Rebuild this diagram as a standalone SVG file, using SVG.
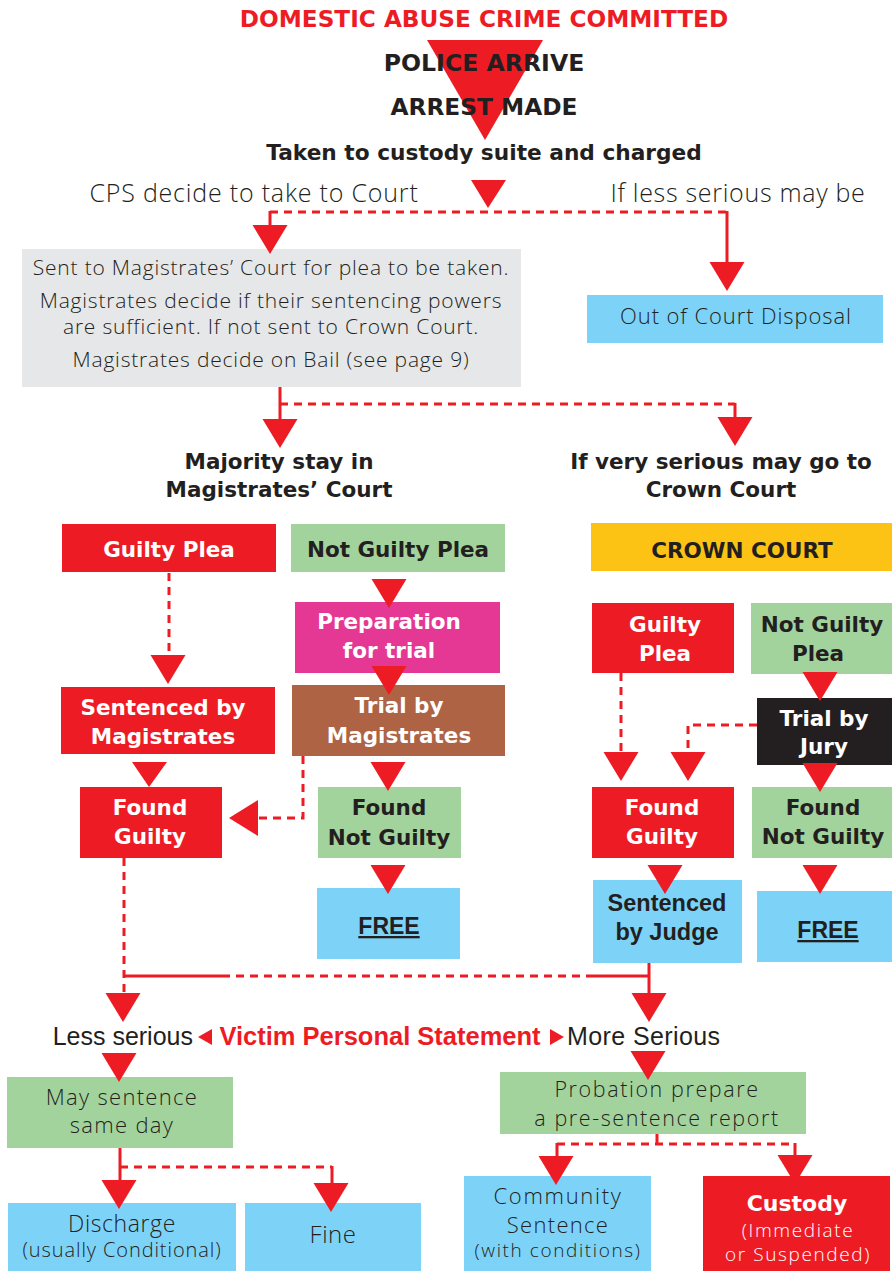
<svg xmlns="http://www.w3.org/2000/svg" width="892" height="1271" viewBox="0 0 892 1271">
<style>
.b{font-family:"DejaVu Sans",sans-serif;font-weight:bold;font-size:21.5px;text-anchor:middle}
.l{font-family:"Open Sans",sans-serif;font-weight:300;text-anchor:middle;fill:#231f20}
.n{font-family:"Liberation Sans",sans-serif;text-anchor:middle}
.w{fill:#fff}
.k{fill:#231f20}
.red{fill:#ed1c24}
.grn{fill:#a3d39c}
.blu{fill:#7dd3f7}
.ln{stroke:#ed1c24;stroke-width:3;fill:none}
.ds{stroke-dasharray:8 6}
.ah{fill:#ed1c24}
</style>
<defs>
<polygon id="ad" points="-17.5,0 17.5,0 0,29" fill="#ed1c24"/>
</defs>
<g id="n-sent-mag">
<rect x="22" y="249" width="499" height="138" fill="#e6e7e8"/>
<text class="l" font-size="21" letter-spacing="0.8" x="271" y="275">Sent to Magistrates’ Court for plea to be taken.</text>
<text class="l" font-size="21" letter-spacing="0.8" x="271" y="308">Magistrates decide if their sentencing powers</text>
<text class="l" font-size="21" letter-spacing="0.8" x="271" y="334">are sufficient. If not sent to Crown Court.</text>
<text class="l" font-size="21" letter-spacing="0.8" x="271" y="367">Magistrates decide on Bail (see page 9)</text>
</g>
<g id="n-ocd">
<rect x="587" y="295" width="296" height="48" class="blu"/>
<text class="l" font-size="22" letter-spacing="0.9" x="736" y="324">Out of Court Disposal</text>
</g>
<g id="n-majority">
<text class="b k" x="279" y="469">Majority stay in</text>
<text class="b k" x="279" y="497">Magistrates’ Court</text>
</g>
<g id="n-veryserious">
<text class="b k" x="721" y="469">If very serious may go to</text>
<text class="b k" x="721" y="497">Crown Court</text>
</g>
<g id="n-gp">
<rect x="62" y="524" width="214" height="48" class="red"/>
<text class="b w" x="169" y="557">Guilty Plea</text>
</g>
<g id="n-ngp">
<rect x="291" y="524" width="214" height="48" class="grn"/>
<text class="b k" x="398" y="557">Not Guilty Plea</text>
</g>
<g id="n-crown">
<rect x="591" y="523" width="301" height="48" fill="#fdc314"/>
<text class="b k" x="742" y="558">CROWN COURT</text>
</g>
<g id="n-prep">
<rect x="295" y="602" width="205" height="71" fill="#e43894"/>
<text class="b w" x="389" y="629">Preparation</text>
<text class="b w" x="389" y="658">for trial</text>
</g>
<g id="n-sbm">
<rect x="61" y="687" width="214" height="67" class="red"/>
<text class="b w" x="163" y="715">Sentenced by</text>
<text class="b w" x="163" y="744">Magistrates</text>
</g>
<g id="n-tbm">
<rect x="292" y="685" width="213" height="71" fill="#ad6344"/>
<text class="b w" x="399" y="713">Trial by</text>
<text class="b w" x="399" y="743">Magistrates</text>
</g>
<g id="n-fg">
<rect x="80" y="787" width="142" height="71" class="red"/>
<text class="b w" x="150" y="815">Found</text>
<text class="b w" x="150" y="844">Guilty</text>
</g>
<g id="n-fng">
<rect x="318" y="787" width="143" height="71" class="grn"/>
<text class="b k" x="389" y="815">Found</text>
<text class="b k" x="389" y="845">Not Guilty</text>
</g>
<g id="n-free1">
<rect x="317" y="888" width="143" height="71" class="blu"/>
<text class="n k" font-weight="bold" font-size="23" x="389" y="934" text-decoration="underline">FREE</text>
</g>
<g id="n-cgp">
<rect x="592" y="603" width="142" height="70" class="red"/>
<text class="b w" x="665" y="632">Guilty</text>
<text class="b w" x="665" y="661">Plea</text>
</g>
<g id="n-cngp">
<rect x="751" y="603" width="141" height="71" class="grn"/>
<text class="b k" x="822" y="632">Not Guilty</text>
<text class="b k" x="818" y="661">Plea</text>
</g>
<g id="n-jury">
<rect x="757" y="698" width="135" height="67" fill="#231f20"/>
<text class="b w" x="824" y="726">Trial by</text>
<text class="b w" x="824" y="754">Jury</text>
</g>
<g id="n-cfg">
<rect x="592" y="787" width="142" height="71" class="red"/>
<text class="b w" x="662" y="815">Found</text>
<text class="b w" x="662" y="844">Guilty</text>
</g>
<g id="n-cfng">
<rect x="752" y="787" width="140" height="71" class="grn"/>
<text class="b k" x="823" y="815">Found</text>
<text class="b k" x="823" y="844">Not Guilty</text>
</g>
<g id="n-sbj">
<rect x="593" y="880" width="149" height="83" class="blu"/>
<text class="n k" font-weight="bold" font-size="23.5" x="667" y="911">Sentenced</text>
<text class="n k" font-weight="bold" font-size="23.5" x="667" y="940">by Judge</text>
</g>
<g id="n-free2">
<rect x="757" y="891" width="135" height="71" class="blu"/>
<text class="n k" font-weight="bold" font-size="23" x="828" y="938" text-decoration="underline">FREE</text>
</g>
<g id="n-may">
<rect x="7" y="1077" width="226" height="71" class="grn"/>
<text class="l" font-size="22" letter-spacing="1.3" x="122" y="1105">May sentence</text>
<text class="l" font-size="22" letter-spacing="1.3" x="122" y="1133">same day</text>
</g>
<g id="n-discharge">
<rect x="8" y="1203" width="228" height="68" class="blu"/>
<text class="l" font-size="23" letter-spacing="0.6" x="122" y="1232">Discharge</text>
<text class="l" font-size="20" letter-spacing="0.9" x="122" y="1257">(usually Conditional)</text>
</g>
<g id="n-fine">
<rect x="245" y="1203" width="176" height="68" class="blu"/>
<text class="l" font-size="24" letter-spacing="0.5" x="333" y="1243">Fine</text>
</g>
<g id="n-probation">
<rect x="500" y="1072" width="306" height="62" class="grn"/>
<text class="l" font-size="21.5" letter-spacing="1.6" x="657" y="1097">Probation prepare</text>
<text class="l" font-size="21.5" letter-spacing="1.6" x="657" y="1126">a pre-sentence report</text>
</g>
<g id="n-community">
<rect x="464" y="1176" width="187" height="95" class="blu"/>
<text class="l" font-size="22" letter-spacing="1.7" x="558" y="1204">Community</text>
<text class="l" font-size="22" letter-spacing="1.3" x="558" y="1233">Sentence</text>
<text class="l" font-size="19" letter-spacing="1.6" x="558" y="1257">(with conditions)</text>
</g>
<g id="n-custody">
<rect x="703" y="1176" width="187" height="95" class="red"/>
<text class="b w" style="font-size:22px" x="797" y="1211">Custody</text>
<text class="l w" font-size="19" letter-spacing="1.6" x="798" y="1237" style="fill:#fff">(Immediate</text>
<text class="l w" font-size="19" letter-spacing="1.6" x="798" y="1261" style="fill:#fff">or Suspended)</text>
</g>
<g id="connectors">
<polygon points="427,40 543,40 485,140" class="ah"/>
<polygon points="471,180 506,180 488,208" class="ah"/>
<path class="ln ds" d="M270,212 H727"/>
<path class="ln" d="M270,211 V226 M727,211 V263"/>
<use href="#ad" x="270" y="225"/>
<use href="#ad" x="727" y="262"/>
<path class="ln" d="M280,387 V420"/>
<path class="ln ds" d="M280,404 H735"/>
<path class="ln" d="M735,403 V418"/>
<use href="#ad" x="280" y="419"/>
<use href="#ad" x="735" y="417"/>
<path class="ln ds" d="M169,573 V656"/>
<use href="#ad" x="168" y="655"/>
<use href="#ad" x="389" y="579"/>
<use href="#ad" x="389" y="666"/>
<polygon points="132,762 167,762 149,787" class="ah"/>
<use href="#ad" x="388" y="762"/>
<path class="ln ds" d="M303,756 V818 H256"/>
<polygon points="258,800 258,836 229,818" class="ah"/>
<use href="#ad" x="388" y="865"/>
<path class="ln ds" d="M621,673 V753"/>
<use href="#ad" x="621" y="752"/>
<path class="ln ds" d="M757,725 H688 V753"/>
<use href="#ad" x="688" y="752"/>
<use href="#ad" x="820" y="672"/>
<use href="#ad" x="820" y="763"/>
<use href="#ad" x="665" y="865"/>
<use href="#ad" x="820" y="865"/>
<path class="ln ds" d="M124,858 V994"/>
<use href="#ad" x="123" y="993"/>
<path class="ln" d="M124,976 H222 M586,976 H650 M649,963 V994"/>
<path class="ln ds" d="M222,976 H586"/>
<use href="#ad" x="649" y="993"/>
<polygon points="212,1029 212,1045 198,1037" class="ah"/>
<polygon points="550,1029 550,1045 564,1037" class="ah"/>
<use href="#ad" x="119" y="1053"/>
<use href="#ad" x="648" y="1051"/>
<path class="ln" d="M120,1148 V1181"/>
<path class="ln ds" d="M120,1167 H332"/>
<path class="ln" d="M332,1166 V1184"/>
<use href="#ad" x="119" y="1180"/>
<use href="#ad" x="331" y="1183"/>
<path class="ln" d="M657,1134 V1145 M557,1143 V1157 M795,1143 V1157"/>
<path class="ln ds" d="M557,1144 H795"/>
<use href="#ad" x="556" y="1156"/>
<use href="#ad" x="795" y="1155"/>
</g>
<g id="n-title">
<text class="b" style="font-size:23.2px;fill:#ed1c24" x="484" y="27">DOMESTIC ABUSE CRIME COMMITTED</text>
</g>
<g id="n-police">
<text class="b k" style="font-size:23.6px" x="484" y="71">POLICE ARRIVE</text>
</g>
<g id="n-arrest">
<text class="b k" style="font-size:23.3px" x="484" y="115">ARREST MADE</text>
</g>
<g id="n-custodysuite">
<text class="b k" style="font-size:21.7px" x="484" y="160">Taken to custody suite and charged</text>
</g>
<g id="n-cps">
<text class="l" font-size="25" letter-spacing="0.8" x="254" y="202">CPS decide to take to Court</text>
</g>
<g id="n-lessserious-maybe">
<text class="l" font-size="25" letter-spacing="0.7" x="738" y="202">If less serious may be</text>
</g>
<g id="n-seriousness">
<text class="n" font-size="25" x="193" y="1045" fill="#231f20" style="text-anchor:end">Less serious</text>
<text class="n" font-weight="bold" font-size="25.5" x="380" y="1045" fill="#ed1c24">Victim Personal Statement</text>
<text class="n" font-size="25" letter-spacing="0.4" x="567" y="1045" fill="#231f20" style="text-anchor:start">More Serious</text>
</g>
</svg>
